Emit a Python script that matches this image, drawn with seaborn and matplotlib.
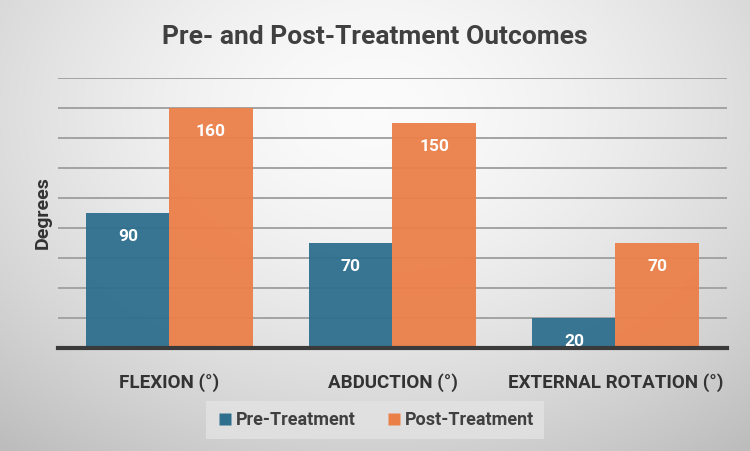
import numpy as np
import pandas as pd
import matplotlib
matplotlib.use("Agg")
import matplotlib.pyplot as plt
import seaborn as sns
from matplotlib.lines import Line2D

categories = ["FLEXION (°)", "ABDUCTION (°)", "EXTERNAL ROTATION (°)"]
pre_values = [90, 70, 20]
post_values = [160, 150, 70]
series_names = ["Pre-Treatment", "Post-Treatment"]
title = "Pre- and Post-Treatment Outcomes"
ylabel = "Degrees"

df = pd.DataFrame({
    "Category": categories * 2,
    "Value": pre_values + post_values,
    "Series": [series_names[0]] * 3 + [series_names[1]] * 3,
})

sns.set_theme(style="white")
plt.rcParams['font.family'] = ['Roboto', 'DejaVu Sans']

colors = ["#2E6F8E", "#EB7F48"]
fig = plt.figure(figsize=(7.5, 4.51), dpi=100)

# background radial gradient
bg = fig.add_axes([0, 0, 1, 1], zorder=-10)
yy, xx = np.mgrid[0:451, 0:750]
d = np.sqrt(((xx - 375) / 520.0) ** 2 + ((yy - 110) / 380.0) ** 2)
val = np.clip(0.985 - 0.2 * d ** 1.6, 0.74, 1)
bg.imshow(np.dstack([val, val, val]), aspect='auto', extent=[0, 1, 0, 1], origin='upper')
bg.axis('off')

ax = fig.add_axes([0.0773, 0.2284, 0.892, 0.5987])
ax.patch.set_alpha(0)
sns.barplot(data=df, x="Category", y="Value", hue="Series", palette=colors,
            width=0.745, gap=0, ax=ax, legend=False, alpha=0.95, zorder=3,
            edgecolor="none", saturation=1)

ax.set_ylim(0, 180)
ax.set_yticks(np.arange(0, 181, 20))
ax.set_yticklabels([])
ax.tick_params(axis='y', length=0)
ax.tick_params(axis='x', length=0, pad=18)
for y in range(20, 181, 20):
    ax.axhline(y, color="#A3A3A3", lw=1.4, zorder=1)
for s in ["top", "right", "left"]:
    ax.spines[s].set_visible(False)
ax.spines["bottom"].set_color("#3A3A3A")
ax.spines["bottom"].set_linewidth(3)
ax.spines["bottom"].set_zorder(5)
ax.set_xlabel("")
ax.set_ylabel(ylabel, fontsize=14, fontweight='bold', color="#333333", labelpad=1)
for lab in ax.get_xticklabels():
    lab.set_fontsize(13.5)
    lab.set_fontweight('bold')
    lab.set_color("#333333")

for cont in ax.containers:
    for bar in cont:
        h = bar.get_height()
        ax.text(bar.get_x() + bar.get_width() / 2, h - 16, f"{int(h)}",
                ha='center', va='center', color='white', fontsize=12.5,
                fontweight='bold', zorder=6)

fig.text(0.5, 0.918, title, ha='center', va='center', fontsize=19,
         fontweight='bold', color="#404040")

handles = [Line2D([0], [0], marker='s', linestyle='none', markersize=8,
                  markerfacecolor=c, markeredgecolor='none') for c in colors]
leg = fig.legend(handles, series_names, loc='center', bbox_to_anchor=(0.5, 0.069),
                 ncol=2, frameon=True, fontsize=13, handletextpad=0.1,
                 handlelength=1.0, columnspacing=1.6, borderpad=0.55, fancybox=False)
leg.get_frame().set_facecolor("#E3E3E3")
leg.get_frame().set_edgecolor("none")
for t in leg.get_texts():
    t.set_fontweight('bold')
    t.set_color("#404040")

fig.savefig("out.png", dpi=100)
